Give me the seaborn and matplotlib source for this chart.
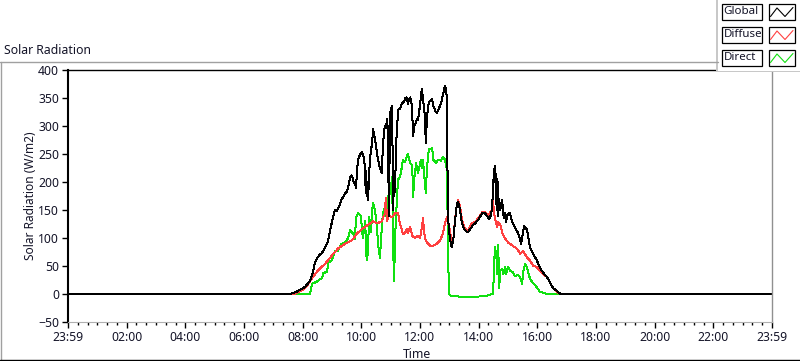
import numpy as np
import pandas as pd
import matplotlib
matplotlib.use('Agg')
import matplotlib.pyplot as plt
import seaborn as sns
from matplotlib.lines import Line2D
from matplotlib.patches import Rectangle

# time in minutes after 23:59 (start of the record), values in W/m2
global_t = [0, 450, 458, 464, 470, 475, 480, 485, 490, 495, 500, 505, 510, 515, 520, 525, 530, 533, 536, 539,
            542, 546, 549, 552, 556, 560, 563, 567, 571, 574, 577, 580, 583, 585, 587, 589, 591, 593, 597, 601,
            603, 605, 607, 608, 609, 610, 611, 612, 613, 614, 616, 618, 620, 622, 624, 626, 628, 631, 634, 638,
            642, 644, 646, 648, 650, 653, 654, 655, 656, 657, 658, 659, 661, 663, 664, 665, 666, 667, 669, 671,
            673, 676, 679, 682, 685, 688, 690, 693, 695, 697, 700, 702, 704, 705, 706, 708, 711, 714, 716, 718,
            720, 722, 724, 726, 728, 730, 731, 732, 733, 734, 736, 738, 741, 745, 747, 750, 752, 755, 758, 761,
            763, 765, 768, 771, 773, 775, 777, 779, 781, 783, 785, 787, 788, 790, 792, 794, 796, 798, 800, 802,
            804, 806, 809, 812, 815, 818, 822, 826, 830, 833, 836, 839, 843, 847, 850, 853, 856, 859, 861, 863,
            865, 867, 868, 869, 870, 871, 873, 874, 875, 876, 877, 878, 879, 880, 882, 884, 886, 888, 890, 892,
            894, 896, 898, 901, 904, 906, 908, 911, 914, 917, 920, 923, 925, 927, 929, 931, 933, 936, 939, 941,
            943, 945, 948, 951, 955, 959, 962, 965, 968, 972, 976, 980, 983, 986, 989, 992, 996, 1000, 1003, 1006,
            1010, 1440]
global_v = [0, 0, 1, 3, 5, 8, 10, 13, 18, 24, 36, 55, 65, 70, 74, 82, 90, 100, 114, 125,
            137, 150, 148, 152, 160, 170, 173, 180, 183, 195, 209, 212, 205, 198, 200, 190, 215, 240, 248, 254,
            250, 243, 230, 210, 180, 220, 175, 200, 168, 172, 215, 245, 258, 270, 294, 285, 276, 258, 240, 225,
            216, 264, 285, 300, 296, 312, 290, 200, 300, 140, 290, 324, 330, 336, 250, 150, 200, 175, 190, 260,
            300, 330, 330, 338, 342, 344, 350, 351, 340, 345, 351, 345, 330, 300, 282, 300, 305, 312, 310, 325,
            336, 355, 366, 348, 335, 318, 290, 270, 290, 312, 330, 342, 345, 348, 336, 330, 325, 324, 330, 336,
            340, 348, 360, 372, 365, 350, 144, 115, 102, 90, 84, 92, 95, 115, 132, 150, 162, 164, 158, 150,
            135, 126, 118, 114, 112, 110, 115, 120, 125, 126, 130, 132, 138, 144, 145, 144, 140, 138, 134, 135,
            142, 150, 165, 180, 200, 215, 228, 200, 215, 160, 205, 150, 200, 140, 170, 150, 160, 168, 144, 135,
            144, 128, 140, 144, 144, 138, 130, 125, 120, 114, 110, 102, 95, 90, 100, 112, 122, 118, 115, 104,
            94, 84, 78, 72, 66, 60, 54, 48, 43, 38, 34, 30, 25, 20, 15, 11, 8, 6, 3, 1,
            0, 0]

diffuse_t = [0, 462, 470, 480, 485, 495, 499, 511, 526, 540, 552, 567, 581, 591, 603, 618, 624, 632, 642, 648,
             650, 653, 655, 663, 669, 675, 679, 683, 685, 689, 693, 695, 700, 704, 710, 716, 720, 724, 726, 728,
             730, 734, 741, 747, 755, 761, 767, 771, 775, 777, 781, 785, 788, 792, 796, 798, 802, 806, 812, 818,
             826, 833, 839, 847, 853, 859, 867, 869, 873, 878, 880, 884, 888, 894, 900, 910, 918, 925, 931, 939,
             945, 951, 959, 965, 972, 980, 986, 992, 1002, 1008, 1440]
diffuse_v = [0, 0, 3, 7, 11, 22, 28, 42, 54, 69, 81, 90, 96, 108, 117, 126, 130, 126, 130, 144,
             171, 130, 140, 137, 144, 144, 126, 114, 108, 108, 117, 108, 120, 104, 100, 104, 100, 120, 135, 117,
             100, 92, 86, 86, 90, 96, 108, 126, 137, 128, 114, 90, 95, 137, 162, 168, 156, 132, 117, 114,
             126, 129, 135, 146, 146, 140, 150, 168, 135, 120, 128, 125, 110, 99, 92, 86, 81, 72, 77, 65,
             60, 51, 48, 42, 36, 30, 20, 11, 2, 0, 0]

direct_t = [0, 495, 499, 509, 520, 522, 530, 532, 540, 546, 552, 560, 567, 573, 577, 583, 587, 589, 593, 599,
            603, 608, 610, 612, 614, 616, 620, 622, 624, 628, 632, 634, 638, 642, 644, 648, 653, 655, 659, 663,
            665, 667, 669, 673, 675, 679, 683, 685, 689, 693, 695, 700, 704, 706, 708, 712, 716, 722, 724, 726,
            730, 732, 734, 738, 745, 747, 753, 757, 763, 767, 771, 775, 777, 779, 783, 796, 802, 822, 857, 859,
            867, 869, 871, 873, 876, 878, 880, 882, 884, 888, 890, 894, 896, 900, 904, 910, 914, 920, 925, 929,
            931, 935, 939, 941, 945, 951, 959, 965, 976, 986, 1440]
direct_v = [0, 0, 18, 22, 29, 37, 40, 56, 60, 77, 77, 90, 92, 100, 114, 108, 99, 137, 144, 140,
            100, 130, 70, 60, 90, 137, 110, 150, 162, 150, 120, 90, 65, 120, 144, 155, 130, 174, 180, 209,
            84, 23, 100, 174, 204, 209, 227, 240, 236, 245, 250, 234, 230, 173, 204, 234, 216, 240, 225, 240,
            198, 180, 222, 258, 260, 240, 234, 240, 238, 245, 240, 222, 108, 0, -3, -4, -5, -5, -4, -2,
            0, 0, 30, 84, 72, 35, 87, 11, 42, 45, 35, 48, 36, 48, 42, 39, 32, 34, 30, 18,
            40, 54, 48, 40, 27, 20, 12, 4, 1, 0, 0]

x_ticks = list(range(0, 1441, 120))
x_labels = ['23:59', '02:00', '04:00', '06:00', '08:00', '10:00', '12:00',
            '14:00', '16:00', '18:00', '20:00', '22:00', '23:59']

sns.set_theme(style='white')
plt.rcParams['font.family'] = ['Noto Sans', 'DejaVu Sans']
txt = '#141428'

fig = plt.figure(figsize=(8, 3.61), dpi=100)
W, H = 800, 361
ax = fig.add_axes([68 / W, 39 / H, 704 / W, 252 / H])

df_dir = pd.DataFrame({'t': direct_t, 'v': direct_v})
df_dif = pd.DataFrame({'t': diffuse_t, 'v': diffuse_v})
df_glo = pd.DataFrame({'t': global_t, 'v': global_v})
sns.lineplot(data=df_dir, x='t', y='v', ax=ax, color='#10e010', lw=0.72, estimator=None, antialiased=False)
sns.lineplot(data=df_dif, x='t', y='v', ax=ax, color='#ff4040', lw=0.72, estimator=None, antialiased=False)
sns.lineplot(data=df_glo, x='t', y='v', ax=ax, color='black', lw=0.72, estimator=None, antialiased=False)

ax.set_xlim(0, 1440)
ax.set_ylim(-50, 400)
ax.set_xticks(x_ticks)
ax.set_xticklabels(x_labels)
ax.set_xticks(range(0, 1441, 20), minor=True)
ax.set_yticks(range(-50, 401, 50))
ax.set_xlabel('')
ax.set_ylabel('')
ax.tick_params(axis='both', which='major', direction='out', labelsize=8.8, colors='black',
               labelcolor=txt, width=1, length=4.5, pad=2, bottom=True, left=True)
ax.tick_params(axis='x', which='minor', direction='out', length=2.5, width=1, color='black', bottom=True)
for s in ['left', 'top']:
    ax.spines[s].set_color('black')
ax.spines['left'].set_linewidth(1.5)
ax.spines['top'].set_linewidth(1.0)
ax.spines['right'].set_color('#909090')
ax.spines['bottom'].set_color('#b0b0b0')
ax.spines['right'].set_linewidth(1.0)
ax.spines['bottom'].set_linewidth(0.8)

fig.text(4 / W, 1 - 50 / H, 'Solar Radiation', fontsize=8.8, color=txt, ha='left', va='center')
fig.text(31 / W, 1 - 196 / H, 'Solar Radiation (W/m2)', fontsize=8.6, color=txt,
         rotation=90, ha='center', va='center')
fig.text(417 / W, 1 - 354 / H, 'Time', fontsize=8.8, color=txt, ha='center', va='center')

# panel frame
fig.add_artist(Line2D([0, 718 / W], [1 - 61.5 / H] * 2, color='#a0a0a0', lw=1))
fig.add_artist(Line2D([0.6 / W] * 2, [1 - 61.5 / H, 1 - 359.5 / H], color='#a0a0a0', lw=1))
fig.add_artist(Line2D([0, 1], [1 - 359.5 / H] * 2, color='black', lw=1))

# legend panel drawn in pixel coordinates
lg = fig.add_axes([716 / W, 1 - 73 / H, 84 / W, 73 / H])
lg.set_xlim(716, 800)
lg.set_ylim(73, 0)
lg.axis('off')
lg.add_patch(Rectangle((716, 0), 84, 72, facecolor='#c8c8c8', edgecolor='none'))
lg.add_patch(Rectangle((718, 0), 82, 70.5, facecolor='white', edgecolor='none'))
names = ['Global', 'Diffuse', 'Direct']
cols = ['black', '#ff4040', '#10e010']
tops = [3.5, 26.5, 49.5]
for nm, c, y0 in zip(names, cols, tops):
    lg.add_patch(Rectangle((721.5, y0), 40.5, 16, facecolor='white', edgecolor='black', lw=0.9))
    lg.text(723.5, y0 + 8.3, nm, fontsize=8.3, color=txt, ha='left', va='center')
    lg.add_patch(Rectangle((768.5, y0), 26, 16, facecolor='white', edgecolor='black', lw=0.9))
    lg.add_line(Line2D([770.5, 777, 785, 793], [y0 + 13, y0 + 4.5, y0 + 13, y0 + 4],
                       color=c, lw=0.8))

fig.savefig('out.png', dpi=100, facecolor='white')
